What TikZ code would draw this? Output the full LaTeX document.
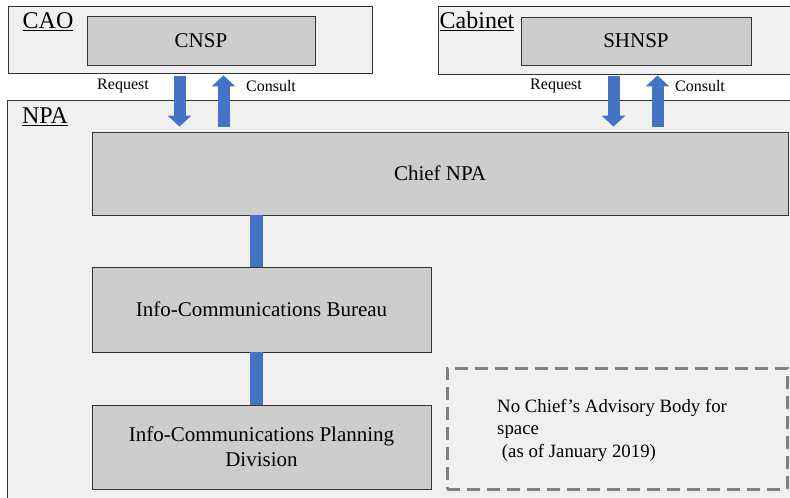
\documentclass[tikz,border=0pt]{standalone}
\usepackage{fontspec}
\setmainfont{Liberation Serif}
\usetikzlibrary{arrows.meta}

\definecolor{panelgray}{HTML}{F0F0F0}
\definecolor{boxgray}{HTML}{CDCDCD}
\definecolor{linkblue}{HTML}{4472C4}
\definecolor{dashgray}{HTML}{7F7F7F}

\tikzset{
  panel/.style={draw=black!80, fill=panelgray, line width=0.8pt},
  unit/.style={draw=black!80, fill=boxgray, line width=0.8pt, inner sep=0pt,
    align=center, font=\fontsize{21}{25}\selectfont},
  tag/.style={font=\fontsize{24}{28}\selectfont},
  flow/.style={font=\fontsize{16}{19}\selectfont},
  blockarrow/.style={draw=linkblue, line width=12pt, -{Triangle[width=23pt,length=11pt]}},
  link/.style={draw=linkblue, line width=13pt},
}

\begin{document}
\begin{tikzpicture}[x=1pt,y=-1pt]
        \fill[white] (0,0) rectangle (790,498);
        \useasboundingbox (0,0) rectangle (790,498);
        \clip (0,0) rectangle (790,498);

        % outer panels
        \node[panel, minimum width=364pt, minimum height=67pt] (cao) at (190,39.5) {};
        \node[panel, minimum width=362pt, minimum height=68pt] (cabinet) at (619,40) {};
        \node[panel, minimum width=800pt, minimum height=420pt] (npa) at (407,310) {};

        \node[tag] (caotag) at (48,22) {\underline{CAO}};
        \node[tag] (cabtag) at (477,21) {\underline{Cabinet}};
        \node[tag] (npatag) at (45,117) {\underline{NPA}};

        % boxes
        \node[unit, minimum width=228pt, minimum height=49pt] (cnsp) at (201,40.5) {CNSP};
        \node[unit, minimum width=230pt, minimum height=48pt] (shnsp) at (636,41) {SHNSP};
        \node[unit, minimum width=696pt, minimum height=83pt] (chief) at (440,173.5) {Chief NPA};
        \node[unit, minimum width=339pt, minimum height=85pt] (bureau) at (261.5,309.5) {Info-Communications Bureau};
        \node[unit, minimum width=339pt, minimum height=84pt] (division) at (261.5,447)
            {Info-Communications Planning\\Division};

        \node[draw=dashgray, line width=3pt, dash pattern=on 13pt off 7pt,
            minimum width=340pt, minimum height=121pt] (advisory) at (617,428.5) {};
        \node[anchor=west, align=left, inner sep=0pt,
            font=\fontsize{18.8}{22.5}\selectfont] (advtext) at (497,430)
            {No Chief’s Advisory Body for\\space\\\hspace{0.25em}(as of January 2019)};

        % request / consult
        \node[flow] (lreqtag) at (123,86) {Request};
        \node[flow] (lcontag) at (271,86) {Consult};
        \node[flow] (rreqtag) at (556,86) {Request};
        \node[flow] (rcontag) at (700,86) {Consult};

        \coordinate (lreq) at (179.5,0);
        \coordinate (lcon) at (223.5,0);
        \coordinate (rreq) at (613.5,0);
        \coordinate (rcon) at (657.5,0);

        \draw[blockarrow, shorten <=3pt, shorten >=5pt] (cao.south -| lreq) -- (chief.north -| lreq);
        \draw[blockarrow, shorten <=5pt, shorten >=2pt] (chief.north -| lcon) -- (cao.south -| lcon);
        \draw[blockarrow, shorten <=2pt, shorten >=5pt] (cabinet.south -| rreq) -- (chief.north -| rreq);
        \draw[blockarrow, shorten <=5pt, shorten >=1pt] (chief.north -| rcon) -- (cabinet.south -| rcon);

        % hierarchy
        \coordinate (lx) at (256,0);
        \draw[link] (chief.south -| lx) -- (bureau.north -| lx);
        \draw[link] (bureau.south -| lx) -- (division.north -| lx);
    \end{tikzpicture}
\end{document}
